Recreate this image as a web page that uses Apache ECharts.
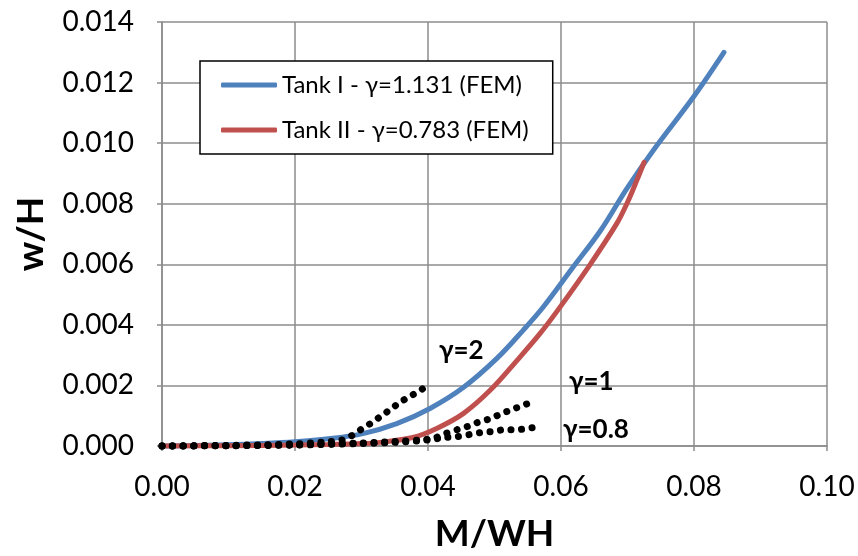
<!DOCTYPE html>
<html>
<head>
<meta charset="utf-8">
<script src="https://cdn.jsdelivr.net/npm/echarts@6/dist/echarts.min.js"></script>
<style>
html,body{margin:0;padding:0;background:#fff;}
#chart{width:858px;height:556px;}
</style>
</head>
<body>
<div id="chart"></div>
<script>
// ---- data ----
const tank1Name = 'Tank I - γ=1.131 (FEM)';
const tank1X = [0, 0.005, 0.01, 0.015, 0.02, 0.025, 0.0302, 0.0353, 0.0403, 0.0453, 0.0504, 0.0543, 0.0573, 0.0618, 0.0659, 0.0699, 0.0740, 0.0800, 0.0845];
const tank1Y = [0, 0.00002, 0.00004, 0.00008, 0.00014, 0.00024, 0.00041, 0.00074, 0.00124, 0.00193, 0.00290, 0.00382, 0.00458, 0.0059, 0.0071, 0.0085, 0.0098, 0.01155, 0.0130];

const tank2Name = 'Tank II - γ=0.783 (FEM)';
const tank2X = [0, 0.01, 0.02, 0.025, 0.03, 0.0328, 0.0377, 0.0413, 0.0453, 0.0493, 0.0534, 0.0568, 0.0598, 0.0644, 0.0684, 0.0699, 0.0714, 0.0725];
const tank2Y = [0, 0.00001, 0.00003, 0.00005, 0.00008, 0.00012, 0.00028, 0.00058, 0.00107, 0.00183, 0.00283, 0.0037, 0.00457, 0.0060, 0.00735, 0.0080, 0.00877, 0.00937];

const gamma2Label = 'γ=2';
const gamma2X = [0, 0.005, 0.01, 0.015, 0.02, 0.025, 0.0271, 0.0286, 0.0299, 0.0314, 0.0329, 0.0343, 0.0358, 0.0373, 0.0388, 0.0403];
const gamma2Y = [0, 0.00001, 0.00002, 0.00004, 0.00007, 0.00014, 0.0002, 0.00035, 0.00054, 0.00075, 0.00098, 0.0012, 0.00144, 0.00164, 0.00183, 0.00206];

const gamma1Label = 'γ=1';
const gamma1X = [0, 0.01, 0.02, 0.03, 0.035, 0.039, 0.0408, 0.0426, 0.0444, 0.046, 0.0475, 0.0493, 0.0511, 0.0526, 0.0543, 0.0558];
const gamma1Y = [0, 0.00001, 0.00004, 0.0001, 0.00015, 0.0002, 0.00025, 0.00041, 0.00054, 0.00065, 0.00078, 0.0009, 0.00107, 0.0012, 0.00134, 0.00147];

const gamma08Label = 'γ=0.8';
const gamma08X = [0, 0.01, 0.02, 0.03, 0.035, 0.04, 0.0426, 0.0444, 0.0463, 0.0481, 0.0498, 0.0516, 0.0534, 0.055, 0.0568];
const gamma08Y = [0, 0.00001, 0.00003, 0.00008, 0.00012, 0.0002, 0.00028, 0.00031, 0.00038, 0.00045, 0.00048, 0.00054, 0.00054, 0.00058, 0.00064];

const xTicks = [0, 0.02, 0.04, 0.06, 0.08, 0.10];
const yTicks = [0, 0.002, 0.004, 0.006, 0.008, 0.010, 0.012, 0.014];
const xTitle = 'M/WH';
const yTitle = 'w/H';

// ---- build ----
const zip = (xs, ys) => xs.map((x, i) => [x, ys[i]]);
const FONT = 'Lato';
const gridColor = '#8c8c8c';

function dotted(name, xs, ys) {
  return {
    name: name, type: 'line', data: zip(xs, ys), showSymbol: false, smooth: 0.3,
    clip: false, silent: true, z: 5,
    lineStyle: { color: '#000', width: 7, type: [0.1, 10.5], cap: 'round' }
  };
}

const chart = echarts.init(document.getElementById('chart'), null, { renderer: 'canvas' });
chart.setOption({
  animation: false,
  backgroundColor: '#fff',
  textStyle: { fontFamily: FONT },
  grid: { left: 162, right: 31, top: 22, bottom: 110, outerBoundsMode: 'none', containLabel: false },
  xAxis: {
    type: 'value', min: xTicks[0], max: xTicks[xTicks.length - 1], interval: 0.02,
    name: xTitle, nameLocation: 'middle', nameGap: 70,
    nameTextStyle: { fontFamily: FONT, fontSize: 37, fontWeight: 'bold', color: '#000' },
    axisLine: { show: true, lineStyle: { color: gridColor, width: 1.5 } },
    axisTick: { show: true, length: 5, lineStyle: { color: gridColor, width: 1.5 } },
    axisLabel: { fontFamily: FONT, fontSize: 28, color: '#000', margin: 27,
      formatter: v => v.toFixed(2) },
    splitLine: { show: true, lineStyle: { color: gridColor, width: 1.5 } }
  },
  yAxis: {
    type: 'value', min: yTicks[0], max: yTicks[yTicks.length - 1], interval: 0.002,
    name: yTitle, nameLocation: 'middle', nameGap: 112, nameRotate: 90,
    nameTextStyle: { fontFamily: FONT, fontSize: 37, fontWeight: 'bold', color: '#000' },
    axisLine: { show: true, lineStyle: { color: gridColor, width: 1.5 } },
    axisTick: { show: true, length: 5, lineStyle: { color: gridColor, width: 1.5 } },
    axisLabel: { fontFamily: FONT, fontSize: 28, color: '#000', margin: 28,
      formatter: v => v.toFixed(3) },
    splitLine: { show: true, lineStyle: { color: gridColor, width: 1.5 } }
  },
  legend: {
    orient: 'vertical', left: 200, top: 61,
    data: [tank1Name, tank2Name],
    backgroundColor: '#fff', borderColor: '#000', borderWidth: 1.5,
    padding: [12, 24, 12, 21], itemGap: 21,
    itemWidth: 56, itemHeight: 5, icon: 'roundRect',
    textStyle: { fontFamily: FONT, fontSize: 24, color: '#000' },
    selectedMode: false
  },
  series: [
    { name: tank1Name, type: 'line', data: zip(tank1X, tank1Y), showSymbol: false, smooth: 0.35,
      clip: false, z: 3, color: '#4F81BD',
      lineStyle: { color: '#4F81BD', width: 5, cap: 'round' } },
    { name: tank2Name, type: 'line', data: zip(tank2X, tank2Y), showSymbol: false, smooth: 0.35,
      clip: false, z: 4, color: '#C0504D',
      lineStyle: { color: '#C0504D', width: 5, cap: 'round' } },
    dotted(gamma2Label, gamma2X, gamma2Y),
    dotted(gamma1Label, gamma1X, gamma1Y),
    dotted(gamma08Label, gamma08X, gamma08Y)
  ],
  graphic: [
    { type: 'text', left: 439, top: 338, z: 10,
      style: { text: gamma2Label, fontFamily: FONT, fontSize: 26, fontWeight: 'bold', fill: '#000' } },
    { type: 'text', left: 569, top: 369, z: 10,
      style: { text: gamma1Label, fontFamily: FONT, fontSize: 26, fontWeight: 'bold', fill: '#000' } },
    { type: 'text', left: 563, top: 417, z: 10,
      style: { text: gamma08Label, fontFamily: FONT, fontSize: 26, fontWeight: 'bold', fill: '#000' } }
  ]
});
</script>
</body>
</html>
